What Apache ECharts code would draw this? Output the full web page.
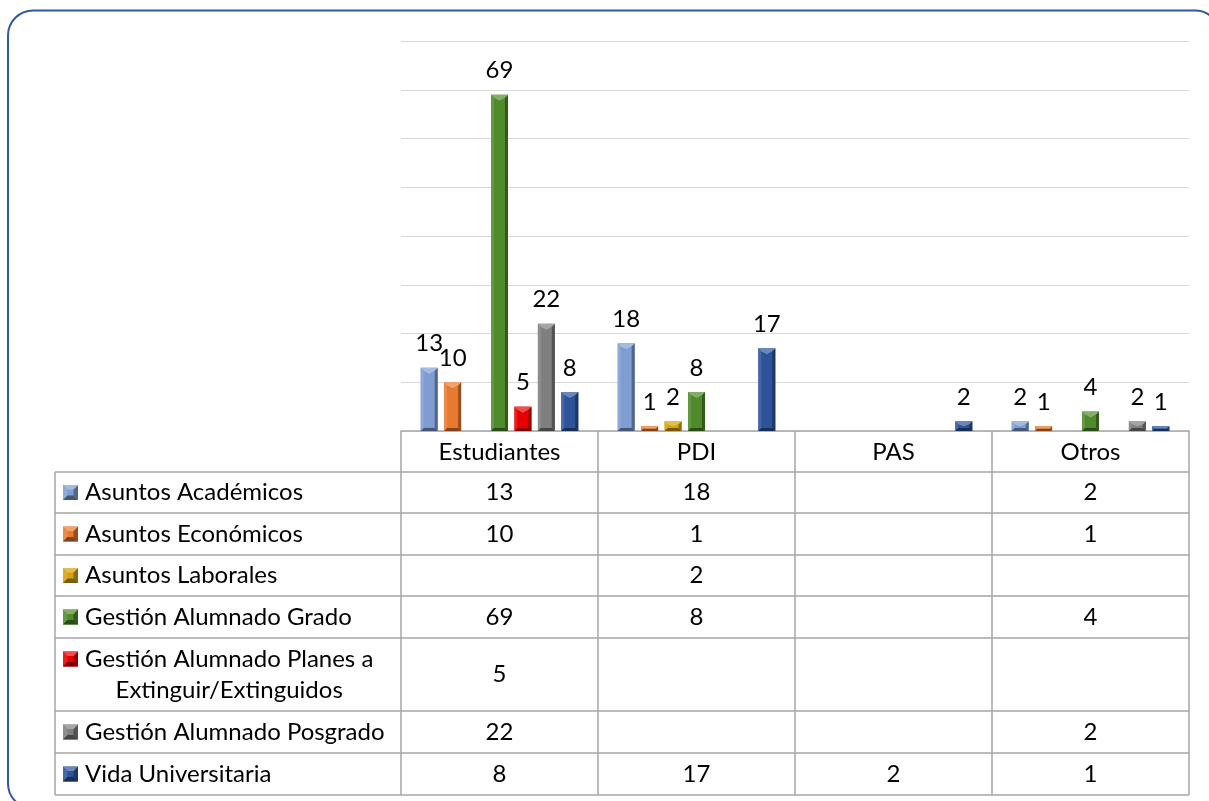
<!DOCTYPE html>
<html><head><meta charset="utf-8">
<script src="https://cdn.jsdelivr.net/npm/echarts@6/dist/echarts.min.js"></script>
<style>html,body{margin:0;padding:0;background:#fff;}#c{width:1209px;height:801px;}</style>
</head><body><div id="c"></div>
<script>
// ---- data ----
const categories = ['Estudiantes', 'PDI', 'PAS', 'Otros'];
const seriesNames = ['Asuntos Académicos', 'Asuntos Económicos', 'Asuntos Laborales', 'Gestión Alumnado Grado', 'Gestión Alumnado Planes a Extinguir/Extinguidos', 'Gestión Alumnado Posgrado', 'Vida Universitaria'];
const asuntosAcademicos = [13, 18, null, 2];
const asuntosEconomicos = [10, 1, null, 1];
const asuntosLaborales = [null, 2, null, null];
const gestionGrado = [69, 8, null, 4];
const gestionPlanes = [5, null, null, null];
const gestionPosgrado = [22, null, null, 2];
const vidaUniversitaria = [8, 17, 2, 1];
const yMin = 0, yMax = 80, yInterval = 10;

// ---- styling / layout ----
const allSeries = [asuntosAcademicos, asuntosEconomicos, asuntosLaborales, gestionGrado, gestionPlanes, gestionPosgrado, vidaUniversitaria];
const baseColors = ['#7f9dd2', '#e87a30', '#d4a20a', '#4f8a2b', '#e60000', '#7f7f7f', '#2e539a'];
const rowHeights = [41, 42, 41, 42, 73, 42, 42];
const headerHeight = 41;
const legendLeft = 55;
const FONT = 'Lato';
const FS = 24;
const GRID_LINE = '#a6a6a6';
const BAR_GAP = 0.38, CAT_GAP = 0.2;

function mix(c, k) {
  const a = echarts.color.parse(c);
  const f = v => Math.max(0, Math.min(255, Math.round(k >= 0 ? v + (255 - v) * k : v * (1 + k))));
  return 'rgb(' + f(a[0]) + ',' + f(a[1]) + ',' + f(a[2]) + ')';
}
function shades(c) {
  return {base: c, top: mix(c, 0.3), left: mix(c, 0.12), right: mix(c, -0.35), bottom: mix(c, -0.45)};
}
const measureCtx = document.createElement('canvas').getContext('2d');
function textWidth(t) { measureCtx.font = FS + 'px ' + FONT; return measureCtx.measureText(t).width; }

const chart = echarts.init(document.getElementById('c'), null, {renderer: 'canvas'});
const N = allSeries.length;
const poly = (pts, fill) => ({type: 'polygon', shape: {points: pts}, style: {fill: fill}});

const barSeries = allSeries.map((arr, i) => ({
  name: seriesNames[i],
  type: 'custom',
  xAxisIndex: 0, yAxisIndex: 0,
  data: arr.map((v, j) => [j, v]).filter(d => d[1] != null),
  renderItem: function (params, api) {
    const j = api.value(0), v = api.value(1);
    const bw = api.size([1, 0])[0];
    const barW = bw * (1 - CAT_GAP) / (N + (N - 1) * BAR_GAP);
    const total = N * barW + (N - 1) * BAR_GAP * barW;
    const xc0 = api.coord([j, 0])[0];
    const x0 = xc0 - total / 2 + i * barW * (1 + BAR_GAP);
    const x1 = x0 + barW, xc = (x0 + x1) / 2;
    const y0 = api.coord([j, v])[1], y1 = api.coord([j, 0])[1];
    const h = y1 - y0;
    const s = Math.min(3, h / 2), tip = Math.min(6, h / 2);
    const sh = shades(baseColors[i]);
    return {type: 'group', children: [
      {type: 'rect', shape: {x: x0, y: y0, width: barW, height: h}, style: {fill: sh.base}},
      poly([[x0, y0], [x0 + s, y0 + s], [x0 + s, y1 - s], [x0, y1]], sh.left),
      poly([[x1, y0], [x1 - s, y0 + s], [x1 - s, y1 - s], [x1, y1]], sh.right),
      poly([[x0, y1], [x0 + s, y1 - s], [x1 - s, y1 - s], [x1, y1]], sh.bottom),
      poly([[x0, y0], [x1, y0], [x1 - s, y0 + s], [xc, y0 + tip], [x0 + s, y0 + s]], sh.top),
      {type: 'text', style: {x: xc, y: y0 - 12, text: String(v), fontFamily: FONT, fontSize: FS, fill: '#000', align: 'center', verticalAlign: 'bottom'}}
    ]};
  }
}));

const cellData = [];
allSeries.forEach((arr, r) => arr.forEach((v, c) => { if (v != null) cellData.push([c, r, v]); }));

function rowBounds(api) {
  const ys = [api.coord([0, 0])[1]];
  let acc = 0;
  rowHeights.forEach(h => { acc += h; ys.push(api.coord([0, acc])[1]); });
  return ys;
}

function icon(x, y, size, c) {
  const sh = shades(c);
  const x1 = x + size, y1 = y + size, s = size * 0.3;
  return [
    {type: 'rect', shape: {x: x, y: y, width: size, height: size}, style: {fill: sh.base}},
    poly([[x, y], [x + s, y + s], [x + s, y1 - s], [x, y1]], sh.left),
    poly([[x1, y], [x1 - s, y + s], [x1 - s, y1 - s], [x1, y1]], sh.right),
    poly([[x, y1], [x + s, y1 - s], [x1 - s, y1 - s], [x1, y1]], sh.bottom),
    poly([[x, y], [x1, y], [x1 - s, y + s], [x + s, y + s]], sh.top)
  ];
}

const frameSeries = {
  type: 'custom', xAxisIndex: 1, yAxisIndex: 1, silent: true,
  data: [[0, 0]],
  renderItem: function (params, api) {
    const bw = api.size([1, 0])[0];
    const xs = categories.map((c, i) => api.coord([i, 0])[0]);
    const left = xs[0] - bw / 2, right = xs[xs.length - 1] + bw / 2;
    const ys = rowBounds(api);
    const top = ys[0], bottom = ys[ys.length - 1];
    const ls = {stroke: GRID_LINE, lineWidth: 1.5};
    const ch = [];
    ys.forEach(y => ch.push({type: 'line', shape: {x1: legendLeft, y1: y, x2: right, y2: y}, style: ls}));
    for (let i = 0; i <= categories.length; i++) {
      const x = left + i * bw;
      ch.push({type: 'line', shape: {x1: x, y1: top - headerHeight, x2: x, y2: bottom}, style: ls});
    }
    ch.push({type: 'line', shape: {x1: legendLeft, y1: top, x2: legendLeft, y2: bottom}, style: ls});
    seriesNames.forEach((n, i) => {
      const yc = (ys[i] + ys[i + 1]) / 2;
      const wrapped = ys[i + 1] - ys[i] > 60;
      const iconY = wrapped ? ys[i] + 21 : yc;
      icon(63, iconY - 7.5, 15, baseColors[i]).forEach(e => ch.push(e));
      const ts = {fontFamily: FONT, fontSize: FS, fill: '#000', verticalAlign: 'middle'};
      if (wrapped) {
        const idx = n.indexOf(' Extinguir');
        const l1 = n.slice(0, idx), l2 = n.slice(idx + 1);
        const cx = 85 + textWidth(l1) / 2;
        ch.push({type: 'text', style: Object.assign({x: 85, y: ys[i] + 21, text: l1, align: 'left'}, ts)});
        ch.push({type: 'text', style: Object.assign({x: cx, y: ys[i] + 52, text: l2, align: 'center'}, ts)});
      } else {
        ch.push({type: 'text', style: Object.assign({x: 85, y: yc, text: n, align: 'left'}, ts)});
      }
    });
    return {type: 'group', children: ch};
  }
};

const cellSeries = {
  type: 'custom', xAxisIndex: 1, yAxisIndex: 1, silent: true,
  data: cellData,
  renderItem: function (params, api) {
    const ys = rowBounds(api);
    const r = api.value(1);
    const x = api.coord([api.value(0), 0])[0];
    const y = (ys[r] + ys[r + 1]) / 2;
    return {type: 'text', style: {x: x, y: y, text: String(api.value(2)), fontFamily: FONT, fontSize: FS, fill: '#000', align: 'center', verticalAlign: 'middle'}};
  }
};

const totalTable = rowHeights.reduce((a, b) => a + b, 0);

chart.setOption({
  animation: false,
  backgroundColor: '#fff',
  grid: [
    {left: 401, right: 20, top: 41, bottom: 370},
    {left: 401, right: 20, top: 472, height: totalTable}
  ],
  xAxis: [
    {type: 'category', gridIndex: 0, data: categories,
      axisLine: {show: true, lineStyle: {color: GRID_LINE, width: 1.5}},
      axisTick: {show: false},
      axisLabel: {margin: 9, fontFamily: FONT, fontSize: FS, color: '#000'}},
    {type: 'category', gridIndex: 1, data: categories, show: false}
  ],
  yAxis: [
    {type: 'value', gridIndex: 0, min: yMin, max: yMax, interval: yInterval,
      axisLine: {show: false}, axisTick: {show: false}, axisLabel: {show: false},
      splitLine: {lineStyle: {color: '#d9d9d9', width: 1}}},
    {type: 'value', gridIndex: 1, min: 0, max: totalTable, inverse: true, show: false, splitLine: {show: false}}
  ],
  series: barSeries.concat([frameSeries, cellSeries]),
  graphic: [
    {type: 'rect', z: 100, silent: true, shape: {x: 8, y: 10.5, width: 1212, height: 798, r: 25},
      style: {fill: null, stroke: '#3259a0', lineWidth: 2}}
  ]
});
</script>
</body></html>
